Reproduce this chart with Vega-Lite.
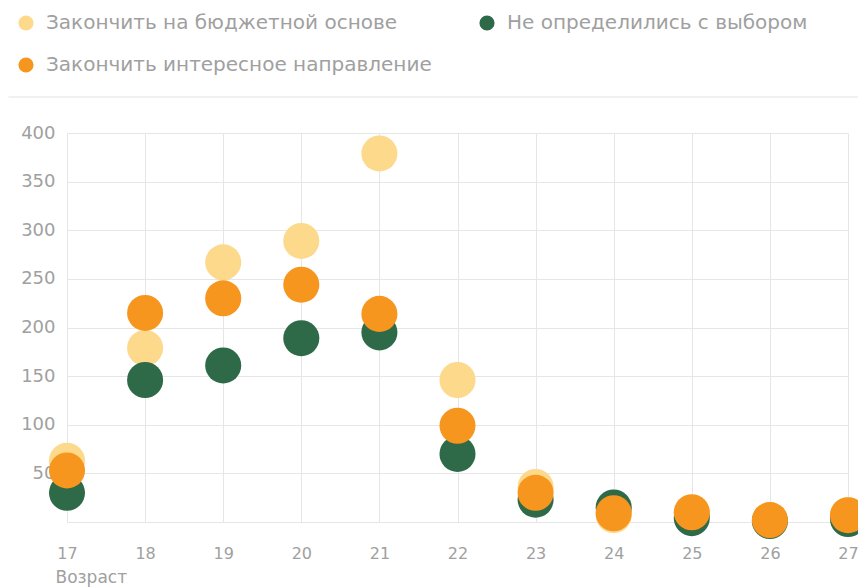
{
  "$schema": "https://vega.github.io/schema/vega-lite/v6.json",
  "width": 781,
  "height": 389,
  "autosize": {"type": "none"},
  "padding": {"left": 67, "top": 133, "right": 10, "bottom": 66},
  "background": "white",
  "config": {
    "view": {"stroke": null},
    "font": "DejaVu Sans"
  },
  "layer": [
    {
      "data": {"values": [{"y": 437, "x1": 16.25, "x2": 28}]},
      "mark": {"type": "rule", "color": "#e3e3e3", "strokeWidth": 1},
      "encoding": {
        "y": {"field": "y", "type": "quantitative", "scale": {"domain": [0, 400], "nice": false}},
        "x": {"field": "x1", "type": "quantitative", "scale": {"domain": [17, 27], "nice": false, "zero": false}},
        "x2": {"field": "x2"}
      }
    },
    {
      "data": {
        "values": [
          {"age": 17, "group": "Закончить на бюджетной основе", "value": 63},
          {"age": 18, "group": "Закончить на бюджетной основе", "value": 179},
          {"age": 19, "group": "Закончить на бюджетной основе", "value": 267},
          {"age": 20, "group": "Закончить на бюджетной основе", "value": 289},
          {"age": 21, "group": "Закончить на бюджетной основе", "value": 379},
          {"age": 22, "group": "Закончить на бюджетной основе", "value": 146},
          {"age": 23, "group": "Закончить на бюджетной основе", "value": 36},
          {"age": 24, "group": "Закончить на бюджетной основе", "value": 7},
          {"age": 25, "group": "Закончить на бюджетной основе", "value": 9},
          {"age": 26, "group": "Закончить на бюджетной основе", "value": 2},
          {"age": 27, "group": "Закончить на бюджетной основе", "value": 7},
          {"age": 17, "group": "Не определились с выбором", "value": 30},
          {"age": 18, "group": "Не определились с выбором", "value": 146},
          {"age": 19, "group": "Не определились с выбором", "value": 161},
          {"age": 20, "group": "Не определились с выбором", "value": 189},
          {"age": 21, "group": "Не определились с выбором", "value": 195},
          {"age": 22, "group": "Не определились с выбором", "value": 70},
          {"age": 23, "group": "Не определились с выбором", "value": 23},
          {"age": 24, "group": "Не определились с выбором", "value": 15},
          {"age": 25, "group": "Не определились с выбором", "value": 4},
          {"age": 26, "group": "Не определились с выбором", "value": 1},
          {"age": 27, "group": "Не определились с выбором", "value": 3},
          {"age": 17, "group": "Закончить интересное направление", "value": 53},
          {"age": 18, "group": "Закончить интересное направление", "value": 215},
          {"age": 19, "group": "Закончить интересное направление", "value": 230},
          {"age": 20, "group": "Закончить интересное направление", "value": 244},
          {"age": 21, "group": "Закончить интересное направление", "value": 214},
          {"age": 22, "group": "Закончить интересное направление", "value": 99},
          {"age": 23, "group": "Закончить интересное направление", "value": 30},
          {"age": 24, "group": "Закончить интересное направление", "value": 9},
          {"age": 25, "group": "Закончить интересное направление", "value": 10},
          {"age": 26, "group": "Закончить интересное направление", "value": 2},
          {"age": 27, "group": "Закончить интересное направление", "value": 7}
        ]
      },
      "mark": {"type": "circle", "opacity": 1, "size": 1300},
      "encoding": {
        "x": {
          "field": "age", "type": "quantitative",
          "scale": {"domain": [17, 27], "nice": false, "zero": false},
          "axis": {
            "values": [17, 18, 19, 20, 21, 22, 23, 24, 25, 26, 27],
            "format": "d",
            "title": "Возраст",
            "titleFont": "DejaVu Sans", "titleFontSize": 17, "titleFontWeight": "normal", "titleColor": "#a0a0a0",
            "titleAnchor": "start", "titleAlign": "left", "titleX": -12, "titleY": 55, "titleBaseline": "middle",
            "labelFont": "DejaVu Sans", "labelFontSize": 16, "labelColor": "#a0a0a0",
            "labelPadding": 23, "ticks": false, "domain": false,
            "grid": true, "gridColor": "#e6e6e6", "gridWidth": 1,
            "labelOverlap": false, "labelFlush": false
          }
        },
        "y": {
          "field": "value", "type": "quantitative",
          "scale": {"domain": [0, 400], "nice": false},
          "axis": {
            "values": [0, 50, 100, 150, 200, 250, 300, 350, 400],
            "labelExpr": "datum.value == 0 ? '' : datum.label",
            "title": null,
            "labelFont": "DejaVu Sans", "labelFontSize": 18, "labelColor": "#a0a0a0",
            "labelPadding": 12, "ticks": false, "domain": false,
            "grid": true, "gridColor": "#e6e6e6", "gridWidth": 1
          }
        },
        "color": {
          "field": "group", "type": "nominal",
          "scale": {
            "domain": ["Закончить на бюджетной основе", "Не определились с выбором", "Закончить интересное направление"],
            "range": ["#fdd98c", "#2e6a48", "#f7961e"]
          },
          "legend": {
            "title": null,
            "orient": "none",
            "legendX": -51,
            "legendY": -120,
            "direction": "horizontal",
            "columns": 2,
            "gridAlign": "none",
            "columnPadding": 45,
            "rowPadding": 22,
            "symbolType": "circle",
            "symbolSize": 230,
            "symbolStrokeWidth": 0,
            "symbolOpacity": 1,
            "labelFont": "DejaVu Sans",
            "labelFontSize": 20,
            "labelColor": "#a0a0a0",
            "labelOffset": 10,
            "labelLimit": 500
          }
        }
      }
    }
  ]
}
